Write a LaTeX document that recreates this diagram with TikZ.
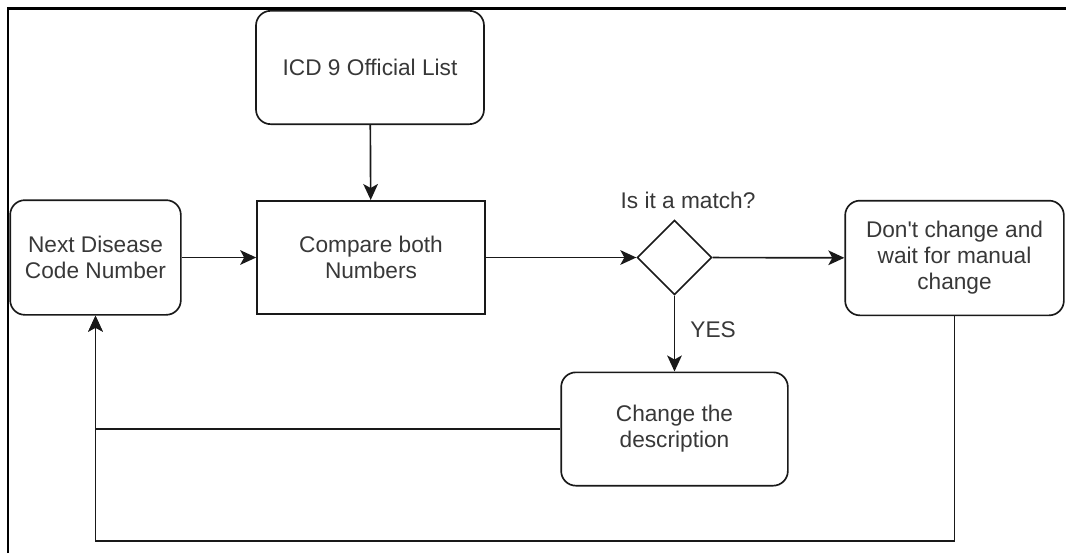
\documentclass[tikz,border=0pt]{standalone}
\usepackage{fontspec}
\setmainfont{Liberation Sans}
\usetikzlibrary{shapes.geometric,arrows.meta}
\begin{document}
\begin{tikzpicture}[
    x=0.75pt,y=-0.75pt,
    every node/.style={font=\fontsize{17}{19.5}\selectfont, text=black!78},
    line/.style={draw=black!90, line width=1.25pt},
    flow/.style={line, -{Stealth[length=12pt,width=11pt,inset=3pt]}},
    roundbox/.style={line, rounded corners=11pt, align=center, inner sep=0pt},
    plainbox/.style={line, align=center, inner sep=0pt},
    decision/.style={line, diamond, minimum width=56pt, minimum height=56pt, inner sep=0pt}
]
    \useasboundingbox (0,0) rectangle (1066,553);
    % outer frame (only top and left edges visible)
    \draw[black, line width=1.8pt] (8,553) -- (8,8.5) -- (1066,8.5);

    \node[roundbox, minimum width=171pt, minimum height=85pt] (icd) at (370,67.5) {ICD 9 Official List};
    \node[roundbox, minimum width=128pt, minimum height=86pt] (next) at (95.5,257.5) {Next Disease\\Code Number};
    \node[plainbox, minimum width=171pt, minimum height=85pt] (cmp) at (371,257.5) {Compare both\\Numbers};
    \node[decision] (match) at (674.5,257.5) {};
    \node (matchlab) at (688,200) {Is it a match?};
    \node[roundbox, minimum width=164pt, minimum height=86pt] (keep) at (954.5,258) {Don\textquotesingle t change and\\wait for manual\\change};
    \node[roundbox, minimum width=170pt, minimum height=85pt] (desc) at (674.5,429) {Change the\\description};
    \coordinate (base) at (95,541);

    \draw[flow] (icd) -- (cmp);
    \draw[flow] (next) -- (cmp);
    \draw[flow] (cmp) -- (match);
    \draw[flow] (match) -- (keep);
    \draw[flow] (match) -- node[right=8pt, pos=0.45] (yes) {YES} (desc);
    \draw[flow] (desc.west) -| (next.south);
    \draw[flow] (keep.south) -- (keep.south |- base) -| (next.south);
\end{tikzpicture}
\end{document}
